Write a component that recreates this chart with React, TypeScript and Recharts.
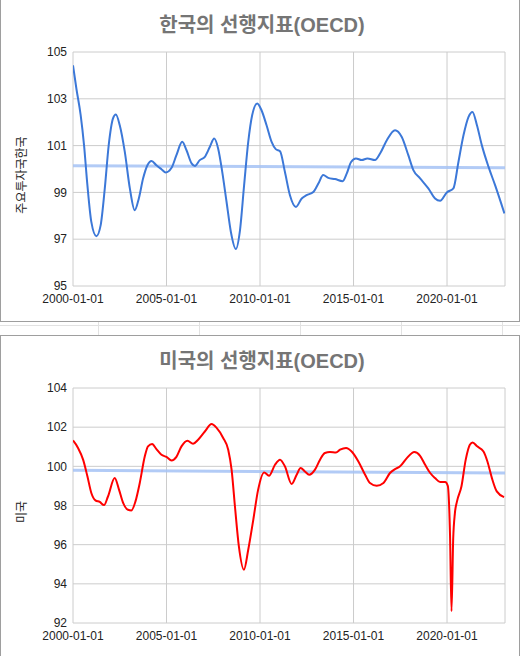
import { LineChart, Line, XAxis, YAxis, CartesianGrid, ReferenceLine } from 'recharts';

const xTicks = [2000, 2005, 2010, 2015, 2020];
const xDomain = [2000, 2023.1];

const krTicks = [95, 97, 99, 101, 103, 105];
const usTicks = [92, 94, 96, 98, 100, 102, 104];

// Korea leading indicator (year as decimal, value)
const krYears = [
  2000.0, 2000.18, 2000.41, 2000.59, 2000.77, 2000.98, 2001.25, 2001.48, 2001.7, 2001.91,
  2002.14, 2002.29, 2002.5, 2002.77, 2003.04, 2003.3, 2003.52, 2003.75, 2003.98, 2004.2,
  2004.46, 2004.73, 2004.96, 2005.27, 2005.53, 2005.84, 2006.07, 2006.34, 2006.52, 2006.78,
  2007.05, 2007.32, 2007.55, 2007.76, 2007.98, 2008.21, 2008.44, 2008.71, 2008.92, 2009.15,
  2009.37, 2009.58, 2009.85, 2010.08, 2010.35, 2010.62, 2010.84, 2011.07, 2011.33, 2011.6,
  2011.92, 2012.23, 2012.49, 2012.85, 2013.12, 2013.38, 2013.65, 2014.01, 2014.42, 2014.64,
  2014.87, 2015.13, 2015.44, 2015.74, 2016.15, 2016.42, 2016.78, 2017.22, 2017.58, 2017.93,
  2018.2, 2018.56, 2019.0, 2019.36, 2019.63, 2019.99, 2020.34, 2020.61, 2020.88, 2021.15,
  2021.36, 2021.6, 2021.86, 2022.22, 2022.57, 2023.07,
];
const krValues = [
  104.43, 103.44, 102.3, 101.02, 99.31, 97.74, 97.13, 97.6, 99.17, 101.02,
  102.16, 102.33, 101.87, 100.73, 99.17, 98.24, 98.74, 99.6, 100.16, 100.34,
  100.16, 99.99, 99.85, 100.05, 100.59, 101.16, 100.8, 100.24, 100.13, 100.38,
  100.52, 100.95, 101.3, 100.88, 99.88, 98.6, 97.32, 96.58, 97.32, 99.31,
  101.16, 102.3, 102.8, 102.51, 101.87, 101.16, 100.85, 100.76, 99.88, 98.88,
  98.38, 98.74, 98.88, 99.02, 99.38, 99.74, 99.62, 99.57, 99.48, 99.81,
  100.3, 100.45, 100.38, 100.45, 100.38, 100.66, 101.23, 101.66, 101.37, 100.59,
  99.95, 99.6, 99.17, 98.74, 98.64, 99.0, 99.17, 100.3, 101.44, 102.23,
  102.44, 101.87, 101.02, 100.09, 99.31, 98.1,
];
const krTrend = [100.14, 100.05];

// US leading indicator
const usYears = [
  2000.0, 2000.27, 2000.54, 2000.77, 2000.98, 2001.2, 2001.43, 2001.66, 2001.87, 2002.23,
  2002.46, 2002.68, 2002.94, 2003.12, 2003.34, 2003.57, 2003.84, 2004.01, 2004.23, 2004.46,
  2004.73, 2005.0, 2005.27, 2005.53, 2005.8, 2006.12, 2006.42, 2006.69, 2007.05, 2007.41,
  2007.68, 2008.03, 2008.3, 2008.48, 2008.66, 2008.87, 2009.14, 2009.37, 2009.64, 2009.9,
  2010.22, 2010.48, 2010.8, 2011.07, 2011.33, 2011.69, 2011.96, 2012.17, 2012.4, 2012.63,
  2012.94, 2013.21, 2013.47, 2013.74, 2014.06, 2014.28, 2014.6, 2014.9, 2015.26, 2015.62,
  2015.88, 2016.24, 2016.6, 2016.95, 2017.22, 2017.49, 2017.85, 2018.25, 2018.56, 2018.83,
  2019.1, 2019.36, 2019.63, 2019.9, 2020.04, 2020.16, 2020.24, 2020.33, 2020.42, 2020.53,
  2020.77, 2021.0, 2021.22, 2021.37, 2021.61, 2021.95, 2022.16, 2022.4, 2022.66, 2023.05,
];
const usValues = [
  101.32, 100.94, 100.34, 99.49, 98.64, 98.26, 98.18, 98.02, 98.46, 99.4,
  98.81, 98.13, 97.78, 97.75, 98.21, 99.15, 100.51, 101.02, 101.14, 100.88,
  100.59, 100.48, 100.3, 100.48, 101.02, 101.31, 101.15, 101.36, 101.78, 102.16,
  101.96, 101.45, 100.85, 99.83, 97.95, 95.91, 94.72, 95.74, 97.27, 98.81,
  99.69, 99.52, 100.08, 100.34, 100.0, 99.1, 99.57, 99.91, 99.74, 99.57,
  99.83, 100.34, 100.68, 100.73, 100.71, 100.85, 100.94, 100.76, 100.25, 99.57,
  99.15, 99.01, 99.15, 99.66, 99.86, 100.0, 100.42, 100.73, 100.54, 100.08,
  99.66, 99.4, 99.2, 99.2, 99.01, 96.5, 92.6, 96.3, 97.6, 98.2,
  98.97, 100.34, 101.1, 101.22, 101.02, 100.76, 100.25, 99.4, 98.72, 98.43,
];
const usTrend = [99.8, 99.66];

const FONT = "'Liberation Sans', Arial, 'Noto Sans CJK KR', sans-serif";
const tickStyle = { fontSize: 12, fill: '#222', fontFamily: FONT };

function Panel({ top, title, yTitle, years, values, trend, color, yTicks, marginTop, marginBottom, yTitleY }) {
  const data = years.map((x, i) => ({ x, v: values[i] }));
  return (
    <div style={{ position: 'absolute', left: 0, top, width: 520, height: 320 }}>
      <LineChart width={520} height={320} data={data}
        margin={{ top: marginTop, right: 15, bottom: marginBottom, left: 0 }}>
        <CartesianGrid stroke="#cccccc" />
        <XAxis type="number" dataKey="x" domain={xDomain} ticks={xTicks} interval={0}
          allowDataOverflow tickFormatter={(v) => `${v}-01-01`}
          axisLine={false} tickLine={false} tickSize={0} tickMargin={8} height={30} tick={tickStyle} />
        <YAxis type="number" domain={[yTicks[0], yTicks[yTicks.length - 1]]} ticks={yTicks} interval={0}
          allowDataOverflow width={73} axisLine={false} tickLine={false} tickSize={0} tickMargin={6} tick={tickStyle} />
        <ReferenceLine segment={[{ x: xDomain[0], y: trend[0] }, { x: xDomain[1], y: trend[1] }]}
          stroke="#a4c2f4" strokeWidth={3} strokeOpacity={0.85} />
        <Line type="monotone" dataKey="v" stroke={color} strokeWidth={2} dot={false} activeDot={false}
          isAnimationActive={false} />
        <text x={262} y={marginTop - 20} textAnchor="middle" fontSize={20} fontWeight="bold"
          fill="#757575" fontFamily={FONT}>{title}</text>
        <text transform={`translate(22, ${yTitleY}) rotate(-90)`} textAnchor="middle"
          dominantBaseline="central" fontSize={12} fill="#222" fontFamily={FONT}>{yTitle}</text>
      </LineChart>
    </div>
  );
}

export default function App() {
  const cells = [98, 199, 300, 401, 502];
  return (
    <div style={{ position: 'absolute', left: 0, top: 0, width: 520, height: 656, background: '#fff', overflow: 'hidden' }}>
      <div style={{ position: 'absolute', left: 0, top: -1, width: 520, height: 323, boxSizing: 'border-box', border: '1px solid #9e9e9e' }} />
      <div style={{ position: 'absolute', left: 0, top: 325, width: 520, height: 1, background: '#e2e2e2' }} />
      {cells.map((x) => (
        <div key={x} style={{ position: 'absolute', left: x, top: 322, width: 1, height: 13, background: '#e2e2e2' }} />
      ))}
      <div style={{ position: 'absolute', left: 0, top: 335, width: 520, height: 340, boxSizing: 'border-box', border: '1px solid #9e9e9e' }} />
      <Panel top={0} title="한국의 선행지표(OECD)" yTitle="주요투자국한국" years={krYears} values={krValues}
        trend={krTrend} color="#3c78d8" yTicks={krTicks} marginTop={52} marginBottom={4} yTitleY={175} />
      <Panel top={335} title="미국의 선행지표(OECD)" yTitle="미국" years={usYears} values={usValues}
        trend={usTrend} color="#ff0000" yTicks={usTicks} marginTop={53} marginBottom={2} yTitleY={177} />
    </div>
  );
}
